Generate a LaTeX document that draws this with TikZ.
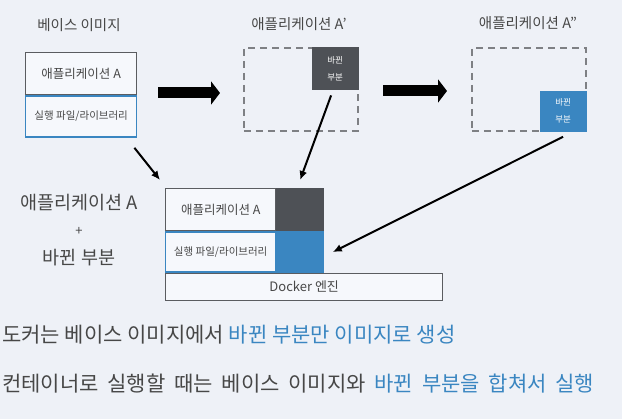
\documentclass[tikz,border=0pt]{standalone}
\usepackage{fontspec}
\setmainfont{Noto Sans CJK KR}
\usepackage{tikz}
\usetikzlibrary{arrows.meta,positioning,backgrounds}
\definecolor{bgcol}{HTML}{EEF1F7}
\definecolor{boxfill}{HTML}{F6F8FC}
\definecolor{boxgray}{HTML}{5A5C60}
\definecolor{darkcol}{HTML}{4E5156}
\definecolor{bluecol}{HTML}{3A86C1}
\definecolor{txtgray}{HTML}{474747}
\definecolor{dashgray}{HTML}{7E8084}

\begin{document}
\begin{tikzpicture}[x=1pt, y=-1pt]
% STYLES
\tikzset{
    layer/.style={rectangle, draw=boxgray, fill=boxfill, line width=1.4pt,
    inner sep=0pt, text=txtgray, font=\fontsize{12.5}{14}\selectfont},
    liblayer/.style={layer, draw=bluecol, font=\fontsize{10.5}{12}\selectfont},
    dashbox/.style={rectangle, draw=dashgray, line width=1.8pt,
    dash pattern=on 7pt off 5pt, minimum width=114pt, minimum height=83pt, inner sep=0pt},
    changed/.style={rectangle, inner sep=0pt, text=white, align=center,
    font=\fontsize{8.5}{17}\selectfont},
    title/.style={text=txtgray, font=\fontsize{14.5}{16}\selectfont},
    bigtext/.style={text=txtgray, font=\fontsize{18.5}{20}\selectfont},
    note/.style={text=txtgray, anchor=west, inner sep=0pt, font=\fontsize{21}{24}\selectfont},
    bigarrow/.style={line width=11pt, -{Triangle[length=9pt,width=23pt]}},
    thinarrow/.style={line width=2pt, -{Latex[length=9pt,width=8pt]}}
}

\path[fill=bgcol, use as bounding box] (0,0) rectangle (622,419);

% base image
\node[title] (baseTitle) at (79,25) {베이스 이미지};
\node[layer, anchor=north west, minimum width=111pt, minimum height=42pt] (baseApp) at (25,52) {애플리케이션 A};
\node[liblayer, below=0pt of baseApp, minimum width=111pt, minimum height=41pt] (baseLib) {실행 파일/라이브러리};

% application A'
\node[title] (titleA1) at (299,24) {애플리케이션 A'};
\node[dashbox, anchor=north west] (appA1) at (243,47) {};
\node[changed, fill=darkcol, anchor=north east, minimum width=47pt, minimum height=43pt] (chg1) at (appA1.north east) {바뀐\\부분};

% application A"
\node[title] (titleA2) at (528,23) {애플리케이션 A"};
\node[dashbox, anchor=north west] (appA2) at (471,47) {};
\node[changed, fill=bluecol, anchor=south east, minimum width=47pt, minimum height=41pt] (chg2) at (appA2.south east) {바뀐\\부분};

% stack
\node[layer, anchor=north west, minimum width=110pt, minimum height=42pt] (stackApp) at (165,188) {애플리케이션 A};
\node[rectangle, draw=darkcol, fill=darkcol, line width=1.4pt, anchor=north west, minimum width=46pt, minimum height=42pt] (stackChg1) at (stackApp.north east) {};
\node[liblayer, below=0pt of stackApp, minimum width=110pt, minimum height=40pt] (stackLib) {실행 파일/라이브러리};
\node[rectangle, draw=bluecol, fill=bluecol, line width=1.4pt, right=0pt of stackLib, minimum width=46pt, minimum height=40pt] (stackChg2) {};
\node[layer, anchor=north west, minimum width=277pt, minimum height=27pt, font=\fontsize{13}{15}\selectfont] (engine) at (stackLib.south west) {Docker 엔진};

% left label
\node[bigtext] (sumApp) at (79,203) {애플리케이션 A};
\node[text=txtgray, font=\fontsize{13}{14}\selectfont] (sumPlus) at (79,231) {+};
\node[bigtext] (sumChg) at (79,258) {바뀐 부분};

% arrows
\coordinate (go1) at (158,93);
\coordinate (to1) at (220,93);
\coordinate (go2) at (383,91);
\coordinate (to2) at (447,91);
\draw[bigarrow] (go1) -- (to1);
\draw[bigarrow] (go2) -- (to2);

\draw[thinarrow] ([shift={(-3,10)}]baseLib.south east) -- ([shift={(-5,-8)}]stackApp.north west);
\draw[thinarrow] ([shift={(-4,5)}]chg1.south) -- ([shift={(0,-8)}]stackChg1.north);
\draw[thinarrow] ([shift={(0,5)}]chg2.south) -- ([shift={(9,0)}]stackChg2.east);

% notes
\node[note] (line1) at (2,335) {도커는 베이스 이미지에서 \textcolor{bluecol}{바뀐 부분만 이미지로 생성}};
\node[note] (line2) at (2,384) {\spaceskip=8.8pt 컨테이너로 실행할 때는 베이스 이미지와 \textcolor{bluecol}{바뀐 부분을 합쳐서 실행}};
\end{tikzpicture}
\end{document}
